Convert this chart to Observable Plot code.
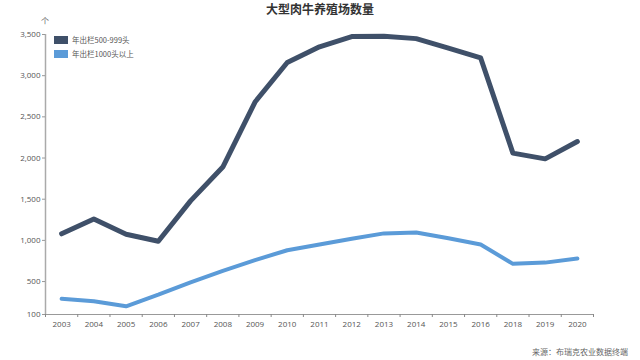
<!DOCTYPE html>
<html>
<head>
<meta charset="utf-8">
<script src="https://cdn.jsdelivr.net/npm/d3@7"></script>
<script src="https://cdn.jsdelivr.net/npm/@observablehq/plot@0.6"></script>
<style>
  html, body { margin: 0; padding: 0; background: #fff; }
  #wrap { position: relative; width: 640px; height: 360px; overflow: hidden;
          font-family: "Open Sans", "Noto Sans CJK SC", sans-serif; }
  #title { position: absolute; left: 0; width: 640px; top: 0px; text-align: center;
           font: bold 12px "Noto Sans CJK SC", sans-serif; color: #333; }
  #unit { position: absolute; left: 41px; top: 15px; font: 8px "Noto Sans CJK SC", sans-serif; color: #666; }
  .leg { position: absolute; left: 54px; font: 7.5px "Noto Sans CJK SC", sans-serif; color: #555; display: flex; align-items: center; }
  .sw { width: 14px; height: 8px; margin-right: 4px; }
  #caption { position: absolute; right: 12px; top: 346px; font: 8px "Noto Sans CJK SC", sans-serif; color: #666; }
  #chart { position: absolute; left: 0; top: 0; }
</style>
</head>
<body>
<div id="wrap">
  <div id="chart"></div>
  <div id="title"></div>
  <div id="unit"></div>
  <div id="legend"></div>
  <div id="caption"></div>
</div>
<script>
const titleText = "大型肉牛养殖场数量";
const unitText = "个";
const captionText = "来源：布瑞克农业数据终端";
const years = ["2003","2004","2005","2006","2007","2008","2009","2010","2011","2012","2013","2014","2015","2016","2018","2019","2020"];
const seriesNames = ["年出栏500-999头", "年出栏1000头以上"];
const seriesColors = ["#3f5069", "#5b9bd8"];
const values500 = [1080, 1260, 1075, 990, 1480, 1890, 2680, 3160, 3350, 3475, 3480, 3450, 3335, 3215, 2060, 1990, 2200];
const values1000 = [290, 260, 200, 340, 490, 630, 760, 880, 950, 1020, 1085, 1095, 1025, 950, 715, 730, 780];
const yTicks = [100, 500, 1000, 1500, 2000, 2500, 3000, 3500];

document.getElementById("title").textContent = titleText;
document.getElementById("unit").textContent = unitText;
document.getElementById("caption").textContent = captionText;
const legend = document.getElementById("legend");
seriesNames.forEach((n, i) => {
  const d = document.createElement("div");
  d.className = "leg";
  d.style.top = (34 + i * 14) + "px";
  d.innerHTML = `<div class="sw" style="background:${seriesColors[i]}"></div><span></span>`;
  d.querySelector("span").textContent = n;
  legend.appendChild(d);
});

const data = [];
years.forEach((y, i) => {
  data.push({i, year: y, value: values500[i], series: seriesNames[0]});
  data.push({i, year: y, value: values1000[i], series: seriesNames[1]});
});
const idx = years.map((_, i) => i);
const bounds = d3.range(years.length + 1).map(i => i - 0.5);

const chart = Plot.plot({
  width: 640,
  height: 360,
  marginLeft: 45,
  marginRight: 47,
  marginTop: 34,
  marginBottom: 46,
  style: {fontFamily: "'Open Sans', 'Noto Sans CJK SC', sans-serif", fontSize: "8px", color: "#555", background: "transparent"},
  x: {type: "linear", domain: [-0.5, years.length - 0.5]},
  y: {domain: [100, 3500]},
  color: {domain: seriesNames, range: seriesColors},
  marks: [
    Plot.ruleY([100], {stroke: "#999", strokeWidth: 1}),
    Plot.ruleX([-0.5], {stroke: "#aaa", strokeWidth: 1.5}),
    Plot.axisY({ticks: yTicks, tickFormat: d3.format(","), tickSize: 3, tickPadding: 2, stroke: "#999", fill: "#555", label: null}),
    Plot.axisX({ticks: idx, tickFormat: i => years[i], tickSize: 0, tickPadding: 7, fill: "#555", label: null}),
    Plot.axisX({ticks: bounds, tickFormat: () => "", tickSize: 3, stroke: "#888", label: null}),
    Plot.line(data, {x: "i", y: "value", z: "series", stroke: "series",
      strokeWidth: d => d.series === seriesNames[0] ? 5 : 4}),
  ]
});
document.getElementById("chart").appendChild(chart);
</script>
</body>
</html>
